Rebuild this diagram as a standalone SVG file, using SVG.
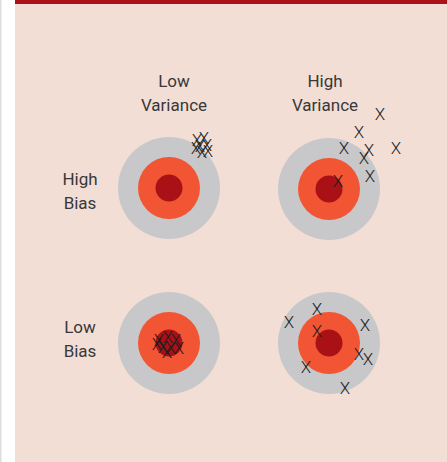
<svg xmlns="http://www.w3.org/2000/svg" width="447" height="462" viewBox="0 0 447 462">
<style>
.lbl{font-family:Roboto,"Liberation Sans",sans-serif;font-size:17px;fill:#383838;text-anchor:middle;font-weight:400}
.x{font-family:Roboto,"Liberation Sans",sans-serif;font-size:17px;fill:#1e1e1e;text-anchor:middle;font-weight:300}
.g{fill:#C8C8CA}.o{fill:#F15533}.d{fill:#AA1117}
</style>
<rect x="0" y="0" width="447" height="462" fill="#fff"/>
<rect x="0" y="0" width="1.5" height="462" fill="#ddd"/>
<rect x="15" y="0" width="432" height="462" fill="#F2DED5"/>
<rect x="15" y="0" width="432" height="4" fill="#AB1118"/>
<g id="labels">
<text class="lbl" x="174" y="87">Low</text>
<text class="lbl" x="174" y="111">Variance</text>
<text class="lbl" x="325" y="87">High</text>
<text class="lbl" x="325" y="111">Variance</text>
<text class="lbl" x="80" y="185">High</text>
<text class="lbl" x="80" y="209">Bias</text>
<text class="lbl" x="80" y="333">Low</text>
<text class="lbl" x="80" y="357">Bias</text>
</g>
<g id="target-hb-lv">
<circle class="g" cx="169" cy="188" r="51"/>
<circle class="o" cx="169" cy="188" r="31"/>
<circle class="d" cx="169" cy="188" r="13.5"/>
<text class="x" x="197" y="146">X</text>
<text class="x" x="204" y="144">X</text>
<text class="x" x="200" y="152">X</text>
<text class="x" x="207" y="151">X</text>
<text class="x" x="202" y="158">X</text>
<text class="x" x="208" y="157">X</text>
<text class="x" x="196" y="154">X</text>
</g>
<g id="target-hb-hv">
<circle class="g" cx="329" cy="189" r="51"/>
<circle class="o" cx="329" cy="189" r="31"/>
<circle class="d" cx="329" cy="189" r="13.5"/>
<text class="x" x="380" y="120">X</text>
<text class="x" x="359" y="138">X</text>
<text class="x" x="344" y="154">X</text>
<text class="x" x="369" y="156">X</text>
<text class="x" x="396" y="154">X</text>
<text class="x" x="364" y="164">X</text>
<text class="x" x="370" y="182">X</text>
<text class="x" x="338" y="187">X</text>
</g>
<g id="target-lb-lv">
<circle class="g" cx="169" cy="343" r="51"/>
<circle class="o" cx="169" cy="343" r="31"/>
<circle class="d" cx="169" cy="343" r="13.5"/>
<text class="x" x="159" y="346">X</text>
<text class="x" x="168" y="343">X</text>
<text class="x" x="176" y="346">X</text>
<text class="x" x="163" y="353">X</text>
<text class="x" x="171" y="354">X</text>
<text class="x" x="179" y="354">X</text>
<text class="x" x="157" y="350">X</text>
<text class="x" x="167" y="358">X</text>
</g>
<g id="target-lb-hv">
<circle class="g" cx="329" cy="343" r="51"/>
<circle class="o" cx="329" cy="343" r="31"/>
<circle class="d" cx="329" cy="343" r="13.5"/>
<text class="x" x="317" y="315">X</text>
<text class="x" x="289" y="328">X</text>
<text class="x" x="317" y="337">X</text>
<text class="x" x="365" y="331">X</text>
<text class="x" x="359" y="360">X</text>
<text class="x" x="368" y="365">X</text>
<text class="x" x="306" y="373">X</text>
<text class="x" x="345" y="394">X</text>
</g>
<g id="connectors"/>
</svg>
